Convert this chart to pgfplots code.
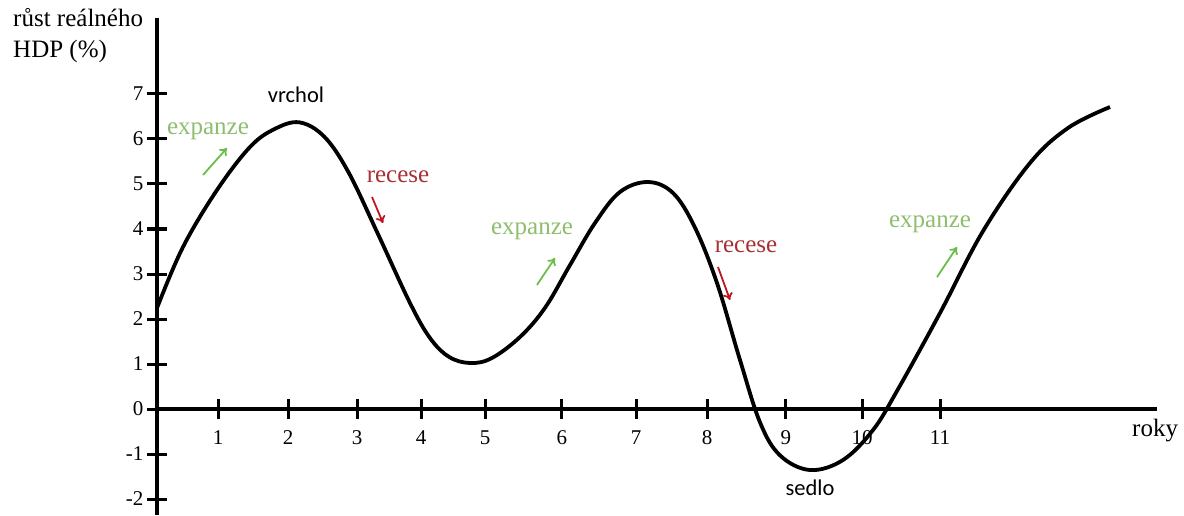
\documentclass[border=0pt]{standalone}
\usepackage{fontspec}
\setmainfont{Liberation Serif}
\newfontfamily\calibri{Carlito}
\usepackage{pgfplots}
\usepackage{pgfplotstable}
\pgfplotsset{compat=1.18}
\usetikzlibrary{arrows.meta}
\definecolor{gtext}{RGB}{141,190,110}
\definecolor{garrow}{RGB}{108,190,72}
\definecolor{rtext}{RGB}{168,48,52}
\definecolor{rarrow}{RGB}{192,22,32}

\pgfplotstableread{
x y
0.000 2.244
0.365 3.600
0.843 4.867
1.306 5.822
1.650 6.220
2.000 6.370
2.350 6.050
2.690 5.260
3.100 3.900
3.553 2.356
3.834 1.578
4.100 1.160
4.396 1.022
4.700 1.130
5.098 1.600
5.450 2.250
5.801 3.200
6.150 4.130
6.500 4.820
6.896 5.044
7.247 4.800
7.550 4.050
7.865 2.800
8.188 1.089
8.470 -0.300
8.750 -1.030
9.171 -1.356
9.635 -1.133
10.056 -0.467
10.400 0.420
10.997 2.133
11.600 3.950
12.261 5.467
12.800 6.250
13.385 6.711
}\curve

\begin{document}
\begin{tikzpicture}
\begin{axis}[
  scale only axis, width=1000pt, height=497.07pt,
  xmin=0, xmax=14.045, ymin=-2.3556, ymax=8.69,
  axis x line=middle, axis y line=left,
  axis line style={line width=3.5pt, black},
  every inner x axis line/.append style={-},
  every outer x axis line/.append style={-},
  every inner y axis line/.append style={-},
  every outer y axis line/.append style={-},
  tick align=center, major tick length=20pt,
  major tick style={line width=3pt, black},
  xtick={0.857,1.840,2.809,3.708,4.607,5.688,6.728,7.725,8.834,9.902,10.997},
  xticklabels={1,2,3,4,5,6,7,8,9,10,11},
  ytick={-2,-1,0,1,2,3,4,5,6,7},
  tick label style={font=\fontsize{21}{25}\selectfont},
  xticklabel style={yshift=-8pt},
  /pgf/number format/assume math mode=true,
  clip=false,
]
\addplot[black, line width=3.8pt, smooth, tension=0.6] table {\curve};

\coordinate (bl) at (axis cs:-2.2051,-2.3556);
\coordinate (tr) at (axis cs:14.424,9.0889);

\node[anchor=base west, font=\fontsize{25}{30}\selectfont, inner sep=0pt] at (axis cs:-2.022,8.489) {růst reálného};
\node[anchor=base west, font=\fontsize{25}{30}\selectfont, inner sep=0pt] at (axis cs:-2.022,7.80) {HDP (\%)};
\node[anchor=base west, font=\fontsize{25}{30}\selectfont, inner sep=0pt] at (axis cs:13.694,-0.622) {roky};

\node[anchor=base, font=\calibri\fontsize{22.5}{27}\selectfont, inner sep=0pt] at (axis cs:1.952,6.822) {vrchol};
\node[anchor=base, font=\calibri\fontsize{22.5}{27}\selectfont, inner sep=0pt] at (axis cs:9.171,-1.911) {sedlo};

\node[anchor=base, text=gtext, font=\fontsize{25}{30}\selectfont, inner sep=0pt] at (axis cs:0.716,6.089) {expanze};
\node[anchor=base, text=gtext, font=\fontsize{25}{30}\selectfont, inner sep=0pt] at (axis cs:5.267,3.867) {expanze};
\node[anchor=base, text=gtext, font=\fontsize{25}{30}\selectfont, inner sep=0pt] at (axis cs:10.857,4.044) {expanze};
\node[anchor=base, text=rtext, font=\fontsize{25}{30}\selectfont, inner sep=0pt] at (axis cs:3.385,5.044) {recese};
\node[anchor=base, text=rtext, font=\fontsize{25}{30}\selectfont, inner sep=0pt] at (axis cs:8.272,3.467) {recese};

\draw[garrow, line width=1.8pt, -{To[length=7pt,width=10pt]}] (axis cs:0.646,5.200) -- (axis cs:0.983,5.800);
\draw[garrow, line width=1.8pt, -{To[length=7pt,width=10pt]}] (axis cs:5.337,2.756) -- (axis cs:5.590,3.356);
\draw[garrow, line width=1.8pt, -{To[length=7pt,width=10pt]}] (axis cs:10.955,2.933) -- (axis cs:11.236,3.600);
\draw[rarrow, line width=1.8pt, -{To[length=7pt,width=10pt]}] (axis cs:3.020,4.711) -- (axis cs:3.174,4.133);
\draw[rarrow, line width=1.8pt, -{To[length=7pt,width=10pt]}] (axis cs:7.879,3.156) -- (axis cs:8.048,2.422);
\end{axis}
\pgfresetboundingbox
\path (bl) rectangle (tr);
\end{tikzpicture}
\end{document}
